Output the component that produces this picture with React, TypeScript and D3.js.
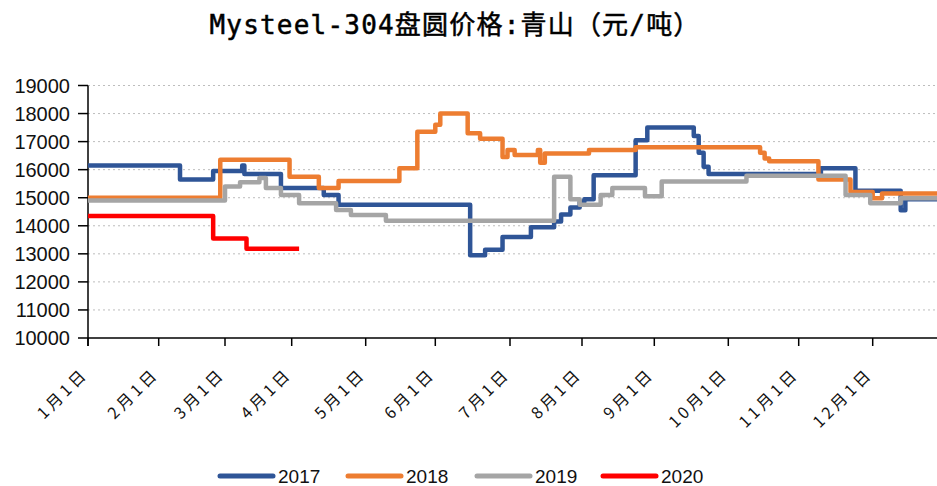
import React from 'react';
import * as d3 from 'd3';

const TITLE = 'Mysteel-304盘圆价格:青山（元/吨）';
const yTickValues = [10000, 11000, 12000, 13000, 14000, 15000, 16000, 17000, 18000, 19000];
const monthLabels = ['1月1日', '2月1日', '3月1日', '4月1日', '5月1日', '6月1日', '7月1日', '8月1日', '9月1日', '10月1日', '11月1日', '12月1日'];
const seriesNames = ['2017', '2018', '2019', '2020'];
const seriesColors = ['#2F5597', '#ED7D31', '#A5A5A5', '#FF0000'];

const dates2017 = ['01-01', '02-10', '02-24', '03-09', '03-10', '03-27', '04-14', '04-20', '06-15', '06-21', '06-28', '07-10', '07-20', '07-23', '07-27', '07-31', '08-02', '08-06', '08-24', '08-29', '09-17', '09-19', '09-21', '09-23', '11-10', '11-24', '12-13', '12-15', '12-31'];
const values2017 = [16150, 15650, 15950, 16150, 15850, 15350, 15100, 14750, 12950, 13150, 13600, 13950, 14150, 14400, 14650, 14850, 14950, 15800, 17050, 17500, 17200, 16600, 16100, 15850, 16050, 15250, 14550, 14950, 14950];

const dates2018 = ['01-01', '02-27', '03-31', '04-12', '04-20', '05-16', '05-24', '06-01', '06-03', '06-14', '06-19', '06-28', '06-30', '07-03', '07-13', '07-14', '07-16', '08-04', '08-24', '10-15', '10-17', '10-19', '11-09', '11-22', '12-01', '12-05', '12-31'];
const values2018 = [15000, 16350, 15750, 15350, 15600, 16050, 17350, 17600, 18000, 17300, 17100, 16450, 16700, 16520, 16700, 16250, 16580, 16700, 16800, 16600, 16400, 16300, 15650, 15200, 14980, 15150, 15150];

const dates2019 = ['01-01', '03-01', '03-08', '03-17', '03-20', '03-27', '04-04', '04-19', '04-25', '05-10', '07-20', '07-27', '07-31', '08-09', '08-14', '08-28', '09-04', '10-09', '11-20', '11-30', '12-13', '12-31'];
const values2019 = [14900, 15400, 15550, 15700, 15350, 15100, 14800, 14560, 14380, 14180, 15750, 14950, 14750, 15100, 15350, 15050, 15580, 15780, 15100, 14800, 14980, 14980];

const dates2020 = ['01-01', '02-24', '03-11', '04-04'];
const values2020 = [14350, 13550, 13180, 13180];

// axis layout: pixel position of each month start on the category-like date axis
const monthStartPx = [88, 158.7, 225, 291.7, 365.7, 435.3, 510, 582, 654.3, 728.3, 798.7, 872.7, 945];

const W = 937;
const H = 486;
const plotLeft = 88;
const plotRight = 937;
const plotTop = 85.5;
const plotBottom = 338;

const parse = d3.timeParse('%Y-%m-%d');
const toDate = (md: string) => parse('2017-' + md) as Date;

export default function App() {
  const monthStarts = d3.range(0, 13).map((m) => new Date(2017, m, 1));
  const x = d3.scaleTime().domain(monthStarts).range(monthStartPx);
  const y = d3.scaleLinear().domain([10000, 19000]).range([plotBottom, plotTop]);

  const seriesDates = [dates2017, dates2018, dates2019, dates2020];
  const seriesValues = [values2017, values2018, values2019, values2020];
  const series = seriesNames.map((name, i) => ({
    name,
    color: seriesColors[i],
    points: seriesDates[i].map((d, j) => ({ date: toDate(d), v: seriesValues[i][j] })),
  }));

  const line = d3
    .line<{ date: Date; v: number }>()
    .x((d) => x(d.date))
    .y((d) => y(d.v))
    .curve(d3.curveStepAfter);

  const tickDates = monthStarts.slice(0, 12);
  const legendX = [220, 348, 477, 603];

  return (
    <div style={{ position: 'absolute', left: 0, top: 0 }}>
      <svg width={W} height={H} style={{ display: 'block', background: '#fff' }}>
        <defs>
          <clipPath id="plotclip">
            <rect x={plotLeft} y={0} width={plotRight - plotLeft} height={H} />
          </clipPath>
        </defs>
        <text
          x={455}
          y={34}
          textAnchor="middle"
          fontFamily="'DejaVu Sans Mono', 'Noto Sans CJK SC', monospace"
          fontSize={26}
          letterSpacing={1.2}
          fill="#000"
          stroke="#000"
          strokeWidth={0.5}
        >
          {TITLE}
        </text>

        {/* grid */}
        {yTickValues.slice(1).map((v) => (
          <line
            key={'g' + v}
            x1={plotLeft}
            x2={plotRight}
            y1={y(v)}
            y2={y(v)}
            stroke="#BDBDBD"
            strokeWidth={1}
            strokeDasharray="2 3"
          />
        ))}

        {/* y axis */}
        <line x1={plotLeft} x2={plotLeft} y1={plotTop} y2={plotBottom + 8} stroke="#000" strokeWidth={1.5} />
        {yTickValues.map((v) => (
          <g key={'y' + v}>
            <line x1={plotLeft - 10} x2={plotLeft} y1={y(v)} y2={y(v)} stroke="#000" strokeWidth={1.5} />
            <text
              x={70}
              y={y(v)}
              dy="0.36em"
              textAnchor="end"
              fontFamily="'Liberation Sans', Arial, sans-serif"
              fontSize={20}
              fill="#111"
            >
              {v}
            </text>
          </g>
        ))}

        {/* x axis */}
        <line x1={plotLeft} x2={plotRight} y1={plotBottom} y2={plotBottom} stroke="#000" strokeWidth={1.5} />
        {tickDates.map((d, i) => {
          const px = x(d);
          return (
            <g key={'x' + i}>
              <line x1={px} x2={px} y1={plotBottom} y2={plotBottom + 8} stroke="#000" strokeWidth={1.5} />
              <text
                transform={`translate(${px + 1},${375}) rotate(-45)`}
                textAnchor="end"
                fontFamily="'Noto Sans CJK SC', sans-serif"
                fontSize={16}
                letterSpacing={3.5}
                fill="#111"
              >
                {monthLabels[i]}
              </text>
            </g>
          );
        })}

        {/* series */}
        <g clipPath="url(#plotclip)">
          {series.map((s) => (
            <path
              key={s.name}
              d={line(s.points) || ''}
              fill="none"
              stroke={s.color}
              strokeWidth={4.5}
              strokeLinejoin="round"
            />
          ))}
        </g>

        {/* legend */}
        {series.map((s, i) => (
          <g key={'l' + s.name}>
            <line
              x1={legendX[i]}
              x2={legendX[i] + 53}
              y1={476}
              y2={476}
              stroke={s.color}
              strokeWidth={5}
              strokeLinecap="round"
            />
            <text
              x={legendX[i] + 58}
              y={476}
              dy="0.36em"
              fontFamily="'Liberation Sans', Arial, sans-serif"
              fontSize={19}
              fill="#111"
            >
              {s.name}
            </text>
          </g>
        ))}
      </svg>
    </div>
  );
}
